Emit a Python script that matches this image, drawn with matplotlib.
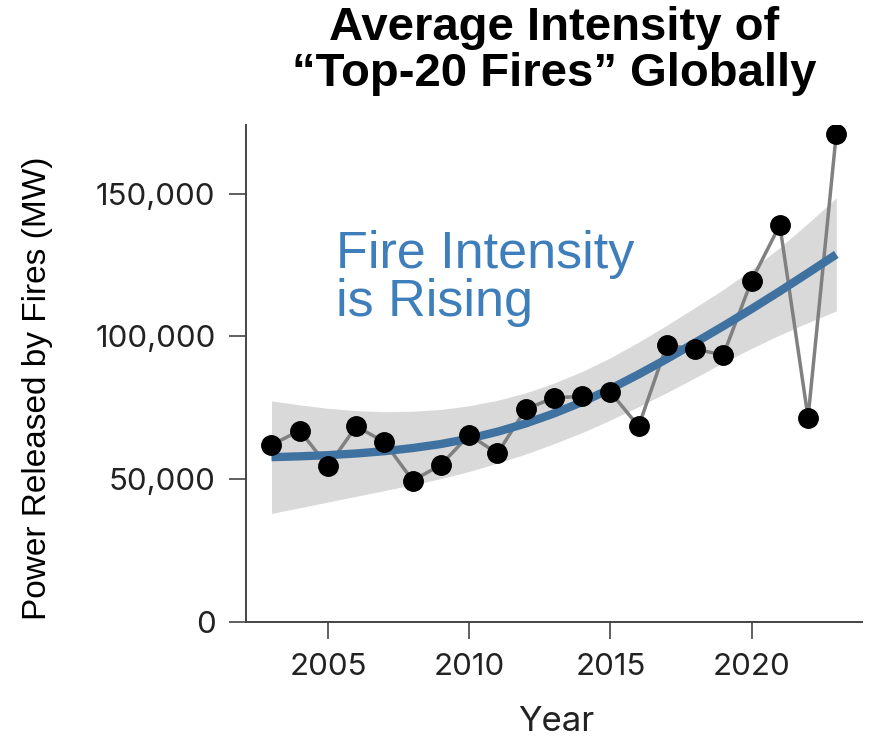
import matplotlib.pyplot as plt
from matplotlib.ticker import FuncFormatter

# Values
years = [2003, 2004, 2005, 2006, 2007, 2008, 2009, 2010, 2011, 2012, 2013,
         2014, 2015, 2016, 2017, 2018, 2019, 2020, 2021, 2022, 2023]
power_mw = [62000, 67000, 54500, 68500, 63000, 49500, 55000, 65500, 59000, 74500, 78500,
            79000, 80500, 68500, 97000, 95500, 93500, 119500, 139000, 71500, 171000]
# smoothed trend and its shaded band, as drawn in the reference
trend_mw = [57700, 58000, 58400, 59000, 59800, 60900, 62300, 64200, 66600, 69500, 73000,
            77000, 81600, 86700, 92100, 97800, 103600, 109600, 115800, 122200, 128700]
band_lo = [38000, 40000, 42000, 44000, 46000, 48000, 50200, 52700, 55600, 58800, 62400,
           66300, 70700, 75400, 80300, 85500, 90800, 95800, 100500, 104800, 108900]
band_hi = [77400, 76000, 74800, 74000, 73600, 73800, 74400, 75700, 77600, 80200, 83600,
           87700, 92500, 98000, 103900, 110100, 116400, 123400, 131100, 139600, 148500]
x_ticks = [2005, 2010, 2015, 2020]
y_ticks = [0, 50000, 100000, 150000]

fig = plt.figure(figsize=(8.82, 7.44), dpi=100)
ax = fig.add_axes([0.279, 0.164, 0.698, 0.668])

ax.fill_between(years, band_lo, band_hi, color="#d9d9d9", lw=0, zorder=1)
ax.plot(years, power_mw, color="#808080", lw=2.5, zorder=2)
ax.plot(years, trend_mw, color="#3f72a0", lw=6, solid_capstyle="butt",
        solid_joinstyle="round", zorder=3)
ax.plot(years, power_mw, "o", color="black", ms=14, zorder=4)

ax.set_xlim(2002.1, 2023.9)
ax.set_ylim(0, 174000)
ax.set_xticks(x_ticks)
ax.set_yticks(y_ticks)
ax.yaxis.set_major_formatter(FuncFormatter(lambda v, p: f"{int(v):,}"))

for side in ["top", "right"]:
    ax.spines[side].set_visible(False)
for side in ["left", "bottom"]:
    ax.spines[side].set_color("#444444")
    ax.spines[side].set_linewidth(1.4)
ax.tick_params(length=12, width=1.2, color="#444444", pad=10)
for lab in ax.get_xticklabels() + ax.get_yticklabels():
    lab.set_fontfamily("Inter")
    lab.set_fontsize(22.5)
    lab.set_color("#222222")

fig.text(554 / 882, 1 - 6 / 744, "Average Intensity of\n\u201cTop-20 Fires\u201d Globally",
         ha="center", va="top", fontsize=34, fontweight="bold",
         family="Liberation Sans", linespacing=1.05)
fig.text(38 / 882, 1 - 388 / 744, "Power Released by Fires (MW)", rotation=90,
         ha="center", va="center", fontsize=24, family="Liberation Sans")
fig.text(556 / 882, 1 - 722 / 744, "Year", ha="center", va="center",
         fontsize=25, family="Inter", color="#222222")
ax.text(2005.3, 120300, "Fire Intensity\nis Rising", ha="left", va="center",
        fontsize=37.5, color="#3d7ebb", family="Liberation Sans", linespacing=0.96)

fig.savefig("out.png", dpi=100)
plt.close(fig)
